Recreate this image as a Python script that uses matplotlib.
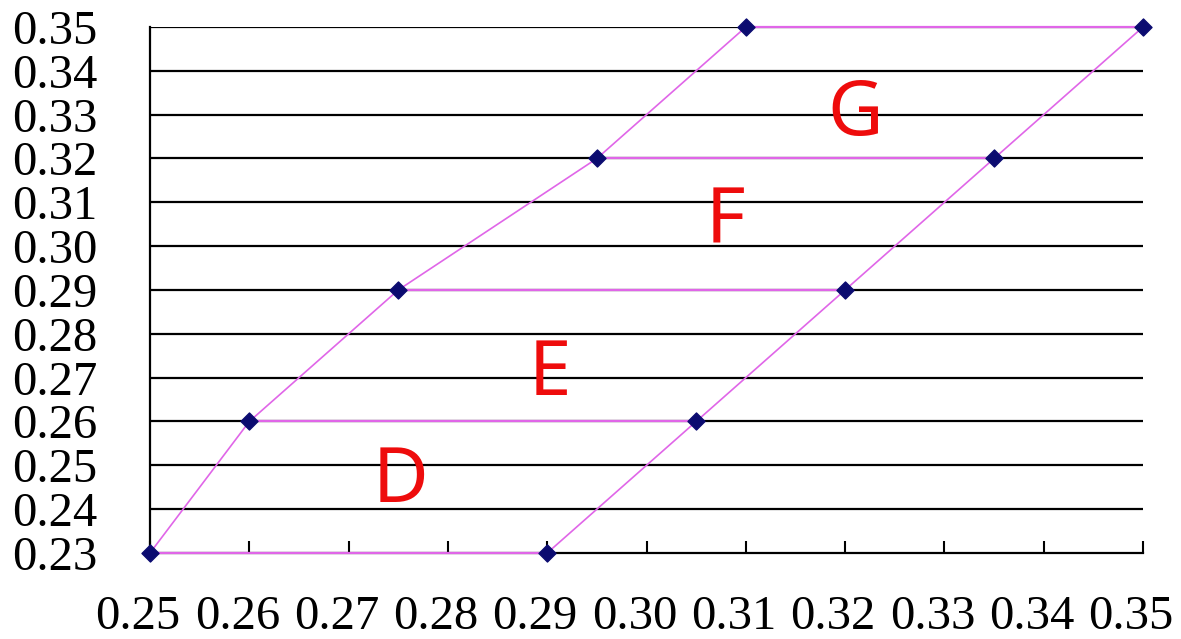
import numpy as np
import matplotlib
matplotlib.use("Agg")
import matplotlib.pyplot as plt
from matplotlib.transforms import ScaledTranslation

# boundary points of the zones (x on left edge, x on right edge, at each level)
levels = [0.23, 0.26, 0.29, 0.32, 0.35]
left_x = [0.25, 0.26, 0.275, 0.295, 0.31]
right_x = [0.29, 0.305, 0.32, 0.335, 0.35]

zone_names = ["D", "E", "F", "G"]
zone_x = [0.2752, 0.2903, 0.3079, 0.3210]
zone_y = [0.2462, 0.2706, 0.3055, 0.3300]

x_ticks = np.round(np.arange(0.25, 0.3501, 0.01), 2)
y_ticks = np.round(np.arange(0.23, 0.3501, 0.01), 2)

line_col = "#e066e8"
mark_col = "#0b0b70"

fig = plt.figure(figsize=(11.81, 6.39), dpi=100)
ax = fig.add_axes([150 / 1181, 86 / 639, 993 / 1181, 526 / 639])

# horizontal grid lines
for y in y_ticks[1:]:
    ax.axhline(y, color="black", lw=1.6, zorder=1)

# zone boundaries
ax.plot(left_x, levels, color=line_col, lw=1.2, zorder=3, clip_on=False)
ax.plot(right_x, levels, color=line_col, lw=1.2, zorder=3, clip_on=False)
for lx, rx, y in zip(left_x, right_x, levels):
    ax.plot([lx, rx], [y, y], color=line_col, lw=1.6, zorder=3, clip_on=False)

ax.scatter(left_x + right_x, levels + levels, marker="D", s=75,
           color=mark_col, zorder=5, clip_on=False)

for name, x, y in zip(zone_names, zone_x, zone_y):
    ax.text(x, y, name, color="#ee0c0c", fontsize=55, family="Noto Sans",
            ha="center", va="center", zorder=4)

ax.set_xlim(0.25, 0.35)
ax.set_ylim(0.23, 0.35)
ax.set_xticks(x_ticks)
ax.set_yticks(y_ticks)
ax.set_xticklabels([f"{v:.2f}" for v in x_ticks], family="Liberation Serif", fontsize=35)
ax.set_yticklabels([f"{v:.2f}" for v in y_ticks], family="Liberation Serif", fontsize=35)
ax.tick_params(axis="x", direction="in", length=9, width=1.5, pad=30)
ax.tick_params(axis="y", length=0, pad=38)

# x labels sit a little left of their ticks in the original
shift = ScaledTranslation(-12 / 100, 0, fig.dpi_scale_trans)
for lab in ax.get_xticklabels():
    lab.set_transform(lab.get_transform() + shift)

for side in ["top", "right"]:
    ax.spines[side].set_visible(False)
for side in ["left", "bottom"]:
    ax.spines[side].set_linewidth(1.6)

fig.savefig("out.png", dpi=100)
